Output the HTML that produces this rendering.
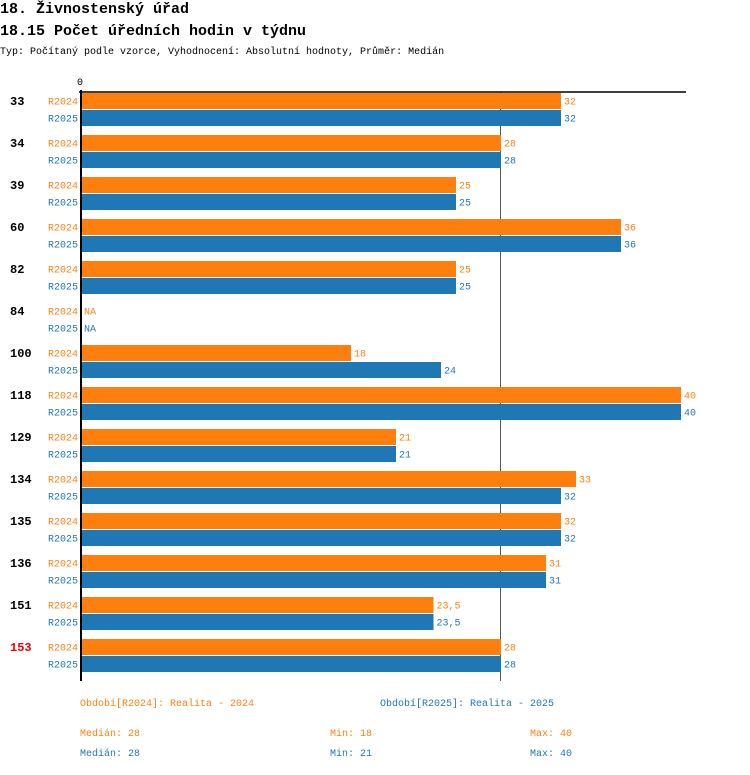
<!DOCTYPE html>
<html><head><meta charset="utf-8"><style>
body{margin:0;background:#fff;width:750px;height:770px;overflow:hidden;font-family:"Liberation Mono",monospace;}
svg text{font-family:"Liberation Mono",monospace;}
</style></head><body>
<svg id="c" width="750" height="770" xmlns="http://www.w3.org/2000/svg">
<text x="0" y="13" font-size="15" font-weight="bold">18. Živnostenský úřad</text>
<text x="0" y="35" font-size="15" font-weight="bold">18.15 Počet úředních hodin v týdnu</text>
<text x="0" y="54" font-size="10">Typ: Počítaný podle vzorce, Vyhodnocení: Absolutní hodnoty, Průměr: Medián</text>
<text x="77" y="85" font-size="10">0</text>
<line x1="500.5" y1="92" x2="500.5" y2="681" stroke="#555" stroke-width="1"/>
<g id="bars"></g>
<line x1="79" y1="92" x2="686" y2="92" stroke="#000" stroke-width="1.5"/>
<line x1="81" y1="90" x2="81" y2="681" stroke="#000" stroke-width="2"/>
<g font-size="10">
<text x="80" y="706" fill="#ff7f0e">Období[R2024]: Realita - 2024</text>
<text x="380" y="706" fill="#1f77b4">Období[R2025]: Realita - 2025</text>
<text x="80" y="736" fill="#ff7f0e">Medián: 28</text>
<text x="330" y="736" fill="#ff7f0e">Min: 18</text>
<text x="530" y="736" fill="#ff7f0e">Max: 40</text>
<text x="80" y="756" fill="#1f77b4">Medián: 28</text>
<text x="330" y="756" fill="#1f77b4">Min: 21</text>
<text x="530" y="756" fill="#1f77b4">Max: 40</text>
</g>
</svg>
<script>
const categories=["33","34","39","60","82","84","100","118","129","134","135","136","151","153"];
const r2024=[32,28,25,36,25,null,18,40,21,33,32,31,23.5,28];
const r2025=[32,28,25,36,25,null,24,40,21,32,32,31,23.5,28];
const highlighted=["153"];
const NS="http://www.w3.org/2000/svg";
const g=document.getElementById("bars");
const x0=81, scale=600/40;
function xs(v){return x0+v*scale;}
function yg(i){return 93+i*42;}
function mk(tag,attrs,txt){const e=document.createElementNS(NS,tag);for(const k in attrs)e.setAttribute(k,attrs[k]);if(txt!=null)e.textContent=txt;g.appendChild(e);return e;}
function fmt(v){return String(v).replace(".",",");}
categories.forEach((c,i)=>{
  const y=yg(i);
  const lab=mk("text",{x:10,y:y+12,"font-size":12,"font-weight":"bold",fill:highlighted.includes(c)?"#e00":"#000"},c);
  
  
  [[r2024,"#ff7f0e","R2024",0],[r2025,"#1f77b4","R2025",17]].forEach(([arr,col,nm,off])=>{
    const v=arr[i], by=y+off;
    const t=mk("text",{x:78,y:by+11.5,"font-size":10,fill:col,"text-anchor":"end"},nm);
    
    
    if(v==null){
      const na=mk("text",{x:84,y:by+11.5,"font-size":10,fill:col},"NA");
      
      
      return;
    }
    const r=mk("rect",{x:x0,y:by,width:xs(v)-x0,height:16,fill:col});
    
    
    const vl=mk("text",{x:xs(v)+3,y:by+11.5,"font-size":10,fill:col},fmt(v));
    
    
  });
});
</script>
</body></html>
